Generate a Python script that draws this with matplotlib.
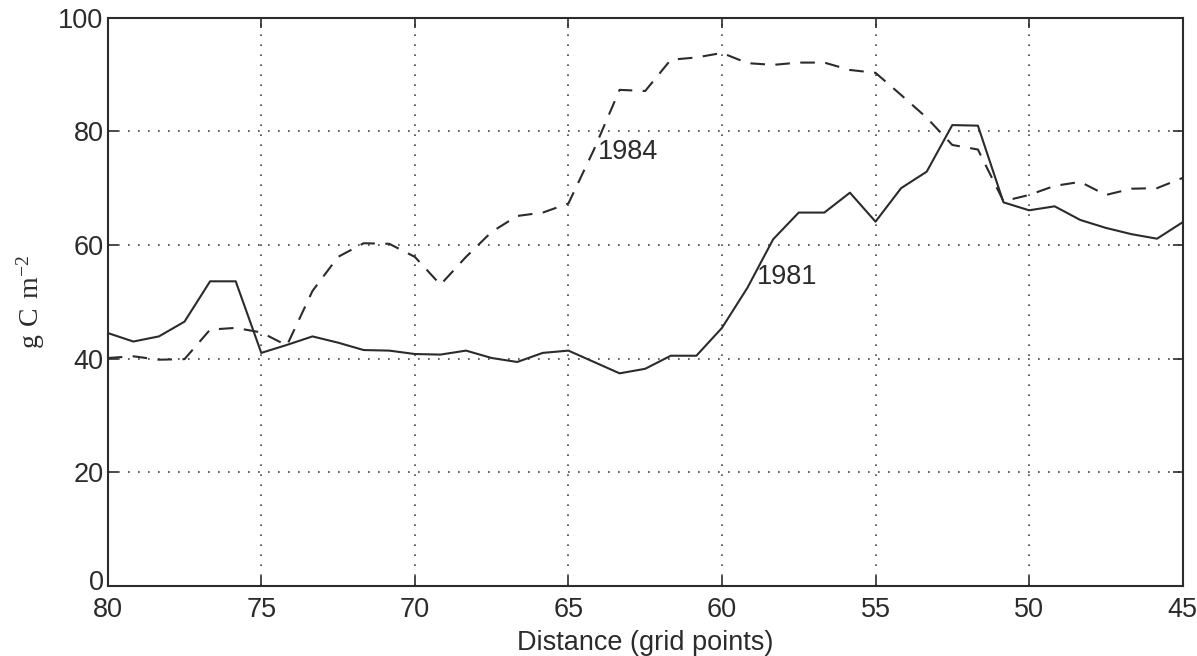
import numpy as np
import matplotlib
matplotlib.use('Agg')
import matplotlib.pyplot as plt
import matplotlib.transforms as mtransforms

plt.rcParams['font.family'] = ['Liberation Sans', 'DejaVu Sans']
plt.rcParams['mathtext.fontset'] = 'custom'
plt.rcParams['mathtext.rm'] = 'Liberation Serif'

# grid points 80 -> 45, every 5/6 of a grid unit
distance = 80 - np.arange(43) * 5 / 6

biomass_1981 = [44.5, 43.0, 43.9, 46.5, 53.6, 53.6, 41.0, 42.4, 43.9, 42.8,
                41.5, 41.4, 40.8, 40.7, 41.4, 40.1, 39.4, 41.0, 41.4, 39.4,
                37.4, 38.2, 40.5, 40.5, 45.4, 52.5, 61.0, 65.7, 65.7, 69.2,
                64.1, 70.0, 72.9, 81.1, 81.0, 67.5, 66.1, 66.8, 64.4, 63.0,
                61.9, 61.1, 64.0]

biomass_1984 = [40.1, 40.4, 39.8, 39.9, 45.1, 45.4, 44.6, 42.3, 51.9, 57.9,
                60.3, 60.2, 57.9, 53.0, 57.9, 62.3, 65.1, 65.7, 67.3, 76.8,
                87.3, 87.1, 92.6, 93.0, 93.8, 92.0, 91.7, 92.1, 92.1, 90.8,
                90.3, 86.4, 82.4, 77.6, 76.8, 67.7, 68.8, 70.4, 71.1, 68.8,
                69.9, 70.0, 71.8]

xticks = [80, 75, 70, 65, 60, 55, 50, 45]
yticks = [0, 20, 40, 60, 80, 100]

fig = plt.figure(figsize=(11.97, 6.56), dpi=100)
ax = fig.add_axes([0.090, 0.107, 0.898, 0.866])

ink = '#2b2b2b'
ax.plot(distance, biomass_1981, color=ink, lw=1.5)
ax.plot(distance, biomass_1984, color=ink, lw=1.5, linestyle=(0, (7, 5)))

ax.text(64.05, 76.4, '1984', fontsize=19.5, color=ink, va='center', ha='left')
ax.text(58.85, 54.4, '1981', fontsize=19.5, color=ink, va='center', ha='left')

ax.set_xlim(80, 45)
ax.set_ylim(0, 100)
ax.set_xticks(xticks)
ax.set_yticks(yticks)
ax.tick_params(direction='in', top=True, right=True, length=7, width=1.2,
               labelsize=19.5, colors=ink)
ax.tick_params(axis='x', pad=8)
ax.tick_params(axis='y', pad=3)
ax.grid(True, linestyle=(0, (1, 5)), color='#444444', lw=1.2)
for s in ax.spines.values():
    s.set_linewidth(1.5)
    s.set_color(ink)

# lift the "0" a little so it sits clear of the "80" below it
zero = ax.get_yticklabels()[0]
zero.set_transform(zero.get_transform() +
                   mtransforms.ScaledTranslation(0, 4 / 72, fig.dpi_scale_trans))

ax.set_xlabel('Distance (grid points)', fontsize=19.5, color=ink, labelpad=5)
ax.set_ylabel(r'$\mathrm{g\ C\ m^{-2}}$', fontsize=20, color=ink, labelpad=8)

fig.savefig('out.png', dpi=100, facecolor='white')
